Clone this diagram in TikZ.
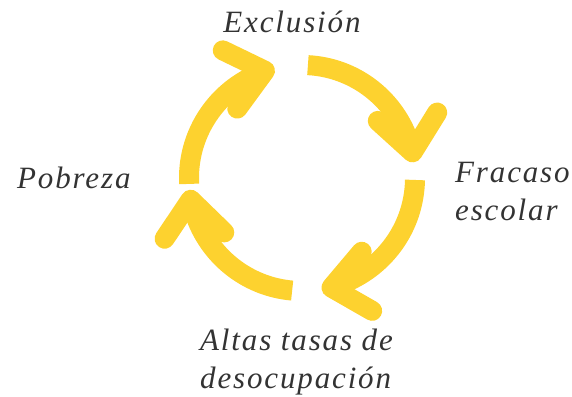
\documentclass[tikz,border=0pt]{standalone}
\usepackage{fontspec}
\setmainfont{Liberation Serif}[LetterSpace=6]
\usetikzlibrary{arrows.meta,bending,calc}
\definecolor{amarillo}{HTML}{FDD22F}
\definecolor{texto}{HTML}{333333}
\begin{document}
\begin{tikzpicture}[x=1pt,y=1pt,
	flecha/.style={draw=amarillo,line width=20pt,-{Straight Barb[length=36pt,width=60pt,round]}},
	etiqueta/.style={text=texto,font=\fontsize{31}{38}\selectfont\itshape,align=left,inner sep=0pt}]
	\useasboundingbox (0,0) rectangle (572,396);
	\def\radio{113}
	\coordinate (m) at (302,218);
	% flechas del ciclo
	\foreach \inicio in {183,87,-1,-95}
		\draw[flecha] ($(m)+(\inicio:\radio)$) arc[start angle=\inicio,end angle=\inicio-79,radius=\radio];
	%
	\node[etiqueta,anchor=base] (exclusion) at (292,363) {Exclusión};
	\node[etiqueta,anchor=base west] (fracaso) at (455,175) {Fracaso\\escolar};
	\node[etiqueta,anchor=base west] (desocupacion) at (200,8) {Altas tasas de\\desocupación};
	\node[etiqueta,anchor=base west] (pobreza) at (17,207) {Pobreza};
	%
\end{tikzpicture}
\end{document}
